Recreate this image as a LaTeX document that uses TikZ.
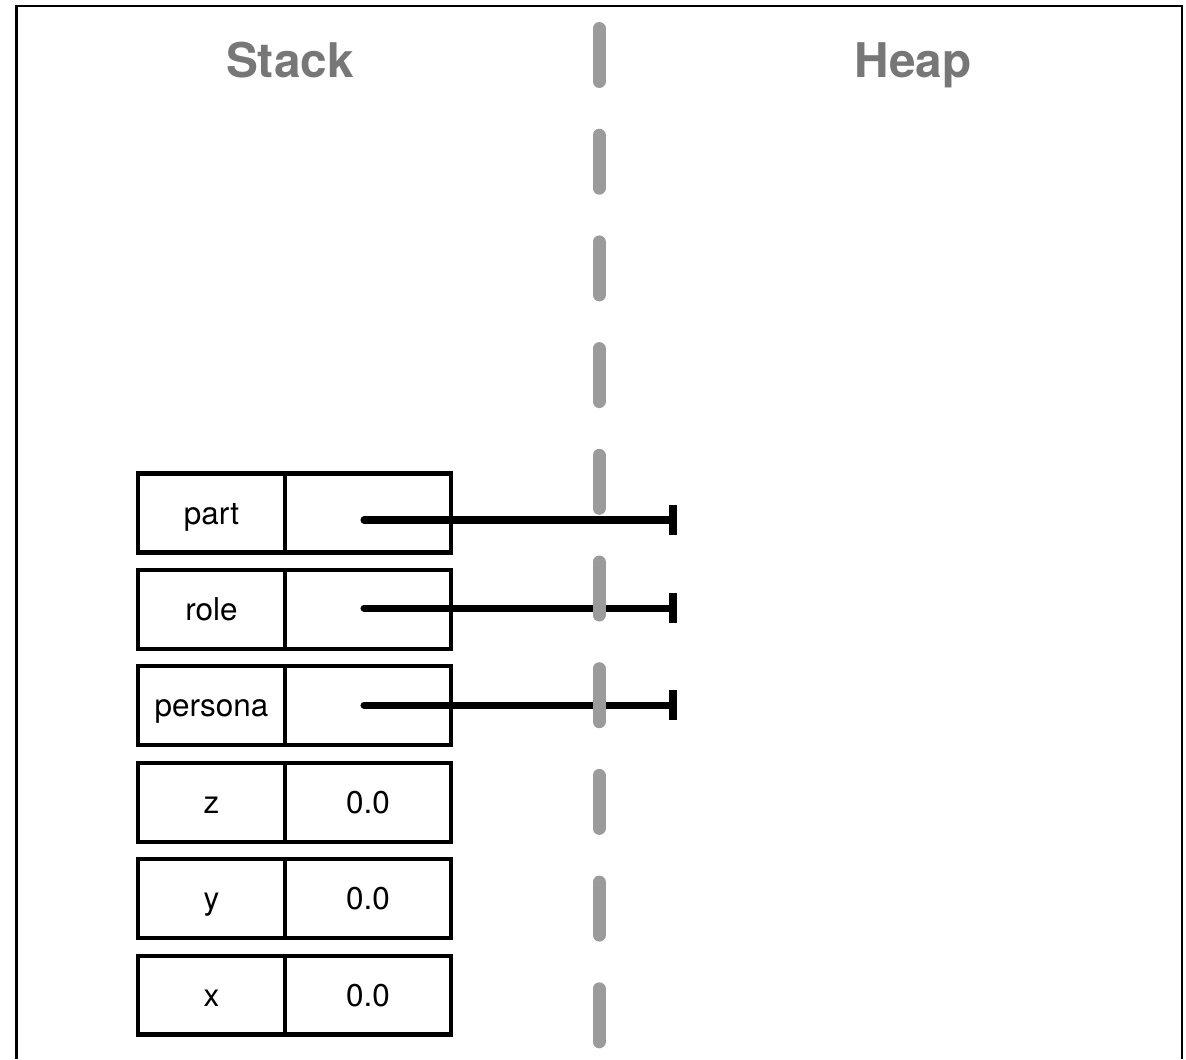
\documentclass[tikz,border=0pt]{standalone}
\usepackage{fontspec}
\setmainfont{TeX Gyre Heros}
\usetikzlibrary{arrows.meta,positioning}

\definecolor{titlegray}{HTML}{777777}
\definecolor{dashgray}{HTML}{9B9B9B}

\begin{document}
\begin{tikzpicture}[x=0.02cm,y=-0.02cm,
    cell/.style={draw, line width=2.3pt, inner sep=0pt, outer sep=0pt, minimum height=1.58cm, text height=12.7pt, text depth=0pt, font=\fontsize{17.9pt}{20pt}\selectfont},
    namecell/.style={cell, minimum width=2.94cm},
    valcell/.style={cell, minimum width=3.32cm, anchor=west},
    title/.style={font=\fontsize{27.2pt}{30pt}\selectfont\bfseries, text=titlegray, anchor=base},
    ref/.style={line width=4pt, line cap=round, -{Bar[width=17pt,line width=4.5pt]}},
    divider/.style={dashgray, line width=7.4pt, line cap=round}]
  \useasboundingbox (0,0) rectangle (1186,1059);
  \draw[line width=1.5pt] (16.5,1059) -- (16.5,6) -- (1182,6) -- (1182,1059);
      \node (stack) at (290,77) [title] {Stack};
      \node (heap) at (913,77) [title] {Heap};
      \foreach \lbl/\val [count=\i] in {part/,role/,persona/,z/0.0,y/0.0,x/0.0} {
        \node (n\i) at (211.5,{513+96.4*(\i-1)}) [namecell] {\lbl};
        \node (v\i) at (n\i.east) [valcell] {\val};
      }
      \foreach \i/\ya in {1/520,2/608,3/705} {
        \coordinate (s\i) at (364,\ya);
        \coordinate (e\i) at (677,\ya);
        \draw[ref] (s\i) to (e\i);
      }
      \foreach \k in {0,...,9}
        \draw[divider] (599,{28.5+106.7*\k}) to (599,{81.5+106.7*\k});
\end{tikzpicture}
\end{document}
